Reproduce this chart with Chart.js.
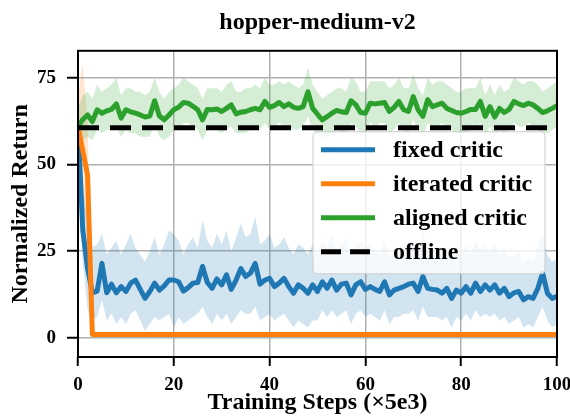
<!DOCTYPE html>
<html lang="en">
<head>
<meta charset="UTF-8">
<title>hopper-medium-v2</title>
<script src="https://cdn.jsdelivr.net/npm/chart.js"></script>
<style>
  body { margin: 0; background: #fff; }
  .chart-box { width: 570px; height: 416px; }
</style>
</head>
<body>
<div class="chart-box"><canvas id="returnChart"></canvas></div>
<script>
// training steps (x5e3)
const steps = Array.from({ length: 101 }, (_, i) => i);
const xTicks = [0, 20, 40, 60, 80, 100];
const yTicks = [0, 25, 50, 75];

const fixedCritic = [
  61, 31, 20, 13, 13.5, 21.5, 13, 15.5, 13, 14.8,
  13.4, 15.8, 16.7, 14, 11.4, 13.4, 15.8, 13.8, 15, 16.7,
  16.7, 16.2, 13.5, 14.5, 15.8, 16, 20.6, 16, 14.3, 17,
  15.3, 18.2, 14, 16.7, 20, 17.7, 18.7, 21.5, 15.5, 16.7,
  17.2, 14.8, 15.8, 17.2, 14.8, 12.9, 15.3, 14.3, 12.9, 15.3,
  13.4, 16.2, 14.3, 16.7, 13.8, 15.5, 15.8, 12.4, 15.3, 16.2,
  14, 14.8, 14, 13.4, 16.2, 12.4, 13.8, 14.3, 14.8, 15.5,
  15.8, 13.4, 17.7, 14.3, 14, 13.8, 12.9, 14.3, 11.4, 13.8,
  12.9, 14.8, 12.9, 15.8, 13.4, 15.3, 13.8, 15.3, 12.9, 14.3,
  11.9, 13, 13.4, 11, 11.9, 11.4, 14.3, 18.7, 12.9, 11.4,
  12
];
const fixedUpper = [
  63, 45, 33, 26, 27, 30, 24, 26, 28, 24,
  27, 30, 26, 24, 22, 25, 29, 24, 27, 31,
  30, 28, 24, 27, 29, 26, 34, 28, 26, 30,
  27, 31, 25, 29, 33, 29, 30, 35, 27, 28,
  30, 26, 27, 29, 26, 24, 27, 26, 24, 27,
  25, 28, 26, 30, 25, 27, 29, 24, 27, 28,
  26, 27, 25, 24, 28, 23, 25, 26, 27, 28,
  28, 25, 31, 26, 25, 25, 24, 26, 22, 25,
  24, 27, 24, 28, 25, 27, 25, 27, 24, 26,
  23, 24, 25, 22, 23, 22, 26, 30, 24, 22,
  23
];
const fixedLower = [
  58, 22, 8, 5, 6, 11, 5, 7, 4, 6,
  4, 7, 8, 5, 2, 4, 6, 5, 6, 7,
  3, 6, 4, 5, 6, 7, 9, 6, 4, 7,
  5, 7, 4, 6, 8, 7, 7, 9, 5, 6,
  7, 5, 6, 7, 5, 3, 5, 4, 3, 5,
  5, 8, 6, 8, 6, 7, 8, 4, 7, 8,
  6, 7, 6, 5, 8, 4, 6, 6, 7, 7,
  8, 5, 9, 6, 6, 6, 5, 6, 3, 6,
  5, 7, 5, 8, 6, 7, 6, 7, 5, 6,
  4, 5, 6, 3, 4, 3, 6, 9, 5, 3,
  4
];

const iteratedCritic = [
  61, 54, 47, 1, 1, 1, 1, 1, 1, 1,
  1, 1, 1, 1, 1, 1, 1, 1, 1, 1,
  1, 1, 1, 1, 1, 1, 1, 1, 1, 1,
  1, 1, 1, 1, 1, 1, 1, 1, 1, 1,
  1, 1, 1, 1, 1, 1, 1, 1, 1, 1,
  1, 1, 1, 1, 1, 1, 1, 1, 1, 1,
  1, 1, 1, 1, 1, 1, 1, 1, 1, 1,
  1, 1, 1, 1, 1, 1, 1, 1, 1, 1,
  1, 1, 1, 1, 1, 1, 1, 1, 1, 1,
  1, 1, 1, 1, 1, 1, 1, 1, 1, 1,
  1
];
const iteratedUpper = [70, 79, 62, 1.5, 1.4];
const iteratedLower = [52, 38, 33, 0.6, 0.6];

const alignedCritic = [
  61, 63, 64.3, 62.4, 65.8, 64.8, 65.5, 65.9, 67.5, 63.4,
  65.8, 65.2, 64.8, 64.3, 63.7, 64, 68.4, 64, 62.9, 64.3,
  65.8, 66.5, 67.9, 67.7, 66.8, 65.8, 62.9, 65.9, 65.8, 66,
  65.3, 66.2, 67.2, 64.6, 65.1, 65.3, 65.8, 66.2, 65.8, 68.2,
  66.5, 67, 67.9, 66.7, 67.5, 66.5, 66.2, 66.7, 71, 66.2,
  64.5, 62.9, 63.8, 64.8, 65.6, 65.2, 65, 68.4, 67.2, 65,
  64.8, 67.7, 67.5, 67.7, 67.9, 65.3, 66.5, 68.2, 65.8, 65.3,
  69.6, 65.8, 63.9, 68.7, 66.7, 67.2, 67.7, 66.2, 65.6, 65,
  64.8, 65.3, 65.9, 65.9, 68.2, 63.9, 66.7, 63.7, 66.2, 65,
  65.9, 68.2, 67.5, 67, 67.7, 67.2, 66.2, 65, 65.5, 66.2,
  67
];
const alignedUpper = [
  66, 70, 71, 69, 73, 71, 72, 73, 75, 70,
  72, 72, 71, 71, 70, 71, 75, 71, 69, 71,
  72, 73, 75, 74, 73, 72, 69, 72, 72, 72,
  71, 73, 74, 71, 71, 72, 72, 73, 72, 75,
  73, 73, 74, 73, 74, 73, 72, 73, 78, 73,
  71, 69, 70, 71, 72, 72, 71, 75, 74, 71,
  71, 74, 74, 74, 74, 72, 73, 75, 72, 72,
  76, 72, 70, 75, 73, 74, 74, 73, 72, 71,
  71, 72, 72, 72, 75, 70, 73, 70, 73, 71,
  72, 75, 74, 73, 74, 74, 73, 71, 72, 73,
  74
];
const alignedLower = [
  56, 57, 58, 57, 60, 59, 60, 60, 61, 58,
  60, 59, 59, 58, 58, 58, 62, 58, 57, 58,
  60, 60, 62, 62, 61, 60, 57, 60, 60, 60,
  59, 60, 61, 59, 59, 59, 60, 60, 60, 62,
  60, 61, 62, 61, 61, 60, 60, 61, 64, 60,
  59, 57, 58, 59, 60, 59, 59, 62, 61, 59,
  59, 62, 61, 62, 62, 59, 60, 62, 60, 59,
  63, 60, 58, 62, 61, 61, 62, 60, 60, 59,
  59, 59, 60, 60, 62, 58, 61, 58, 60, 59,
  60, 62, 61, 61, 62, 61, 60, 59, 59, 60,
  61
];

const offlineReturn = 60.6;

const serif = "'Liberation Serif', 'Times New Roman', serif";
const BLUE = '#1f77b4', ORANGE = '#ff7f0e', GREEN = '#2ca02c';

function line(label, data, color, extra) {
  return Object.assign({
    label, data,
    borderColor: color,
    borderWidth: 5,
    pointRadius: 0,
    tension: 0,
    borderJoinStyle: 'round',
    fill: false
  }, extra || {});
}
function band(data, color, fillTo) {
  return {
    data, band: true,
    borderWidth: 0,
    pointRadius: 0,
    backgroundColor: color,
    fill: fillTo
  };
}

// draws the box round the axes and the legend in the upper right
const frameAndLegend = {
  id: 'frameAndLegend',
  afterDatasetsDraw(chart) {
    const { ctx, chartArea: a } = chart;
    ctx.save();
    ctx.strokeStyle = '#000';
    ctx.lineWidth = 2;
    ctx.strokeRect(a.left, a.top, a.right - a.left, a.bottom - a.top);
    ctx.restore();
  },
  afterDraw(chart) {
    const { ctx, chartArea: a } = chart;
    const items = chart.data.datasets.filter(d => !d.band).reverse();
    const left = a.right - 244, top = a.top + 81, w = 232, h = 142;
    ctx.save();
    ctx.fillStyle = 'rgba(255,255,255,0.8)';
    ctx.strokeStyle = '#cccccc';
    ctx.lineWidth = 1;
    ctx.beginPath();
    ctx.roundRect(left, top, w, h, 4);
    ctx.fill();
    ctx.stroke();
    ctx.font = 'bold 24px ' + serif;
    ctx.textBaseline = 'middle';
    items.forEach((d, i) => {
      const y = top + 18 + i * 34;
      ctx.strokeStyle = d.borderColor;
      ctx.lineWidth = 5;
      ctx.setLineDash(d.borderDash ? [20, 9] : []);
      ctx.beginPath();
      ctx.moveTo(left + 8, y);
      ctx.lineTo(left + 62, y);
      ctx.stroke();
      ctx.fillStyle = '#000';
      ctx.fillText(d.label, left + 80, y + 1);
    });
    ctx.restore();
  }
};

new Chart(document.getElementById('returnChart'), {
  type: 'line',
  data: {
    labels: steps,
    datasets: [
      line('offline', steps.map(() => offlineReturn), '#000', { borderDash: [21, 11] }),
      line('aligned critic', alignedCritic, GREEN),
      line('iterated critic', iteratedCritic, ORANGE),
      line('fixed critic', fixedCritic, BLUE),
      band(alignedUpper, 'rgba(44,160,44,0.2)', '+1'),
      band(alignedLower, 'rgba(44,160,44,0.2)', false),
      band(iteratedUpper, 'rgba(255,127,14,0.2)', '+1'),
      band(iteratedLower, 'rgba(255,127,14,0.2)', false),
      band(fixedUpper, 'rgba(31,119,180,0.2)', '+1'),
      band(fixedLower, 'rgba(31,119,180,0.2)', false)
    ]
  },
  options: {
    responsive: true,
    maintainAspectRatio: false,
    animation: false,
    devicePixelRatio: 1,
    layout: { padding: { left: 0, right: 13, top: 0, bottom: 0 } },
    plugins: {
      legend: { display: false },
      tooltip: { enabled: false },
      title: {
        display: true,
        fullSize: false,
        text: 'hopper-medium-v2',
        color: '#000',
        font: { family: serif, size: 24, weight: 'bold', lineHeight: 1.2 },
        padding: { top: 8, bottom: 14 }
      }
    },
    scales: {
      x: {
        type: 'linear',
        min: 0,
        max: 100,
        afterBuildTicks: s => { s.ticks = xTicks.map(v => ({ value: v })); },
        afterFit: s => { s.height = 59; s.paddingLeft = 0; s.paddingRight = 0; },
        grid: { color: '#b0b0b0', lineWidth: 1.5, tickColor: '#000', tickWidth: 2, tickLength: 9 },
        border: { display: false },
        ticks: { color: '#000', padding: 8, maxRotation: 0, font: { family: serif, size: 19, weight: 'bold' } },
        title: {
          display: true,
          text: 'Training Steps (×5e3)',
          color: '#000',
          padding: 0,
          font: { family: serif, size: 24, weight: 'bold', lineHeight: 1.1 }
        }
      },
      y: {
        min: -5.5,
        max: 82.8,
        afterBuildTicks: s => { s.ticks = yTicks.map(v => ({ value: v })); },
        afterFit: s => { s.width = 78; s.paddingTop = 0; s.paddingBottom = 0; },
        grid: { color: '#b0b0b0', lineWidth: 1.5, tickColor: '#000', tickWidth: 2, tickLength: 11 },
        border: { display: false },
        ticks: { color: '#000', padding: 11, font: { family: serif, size: 19, weight: 'bold' } },
        title: {
          display: true,
          text: 'Normalized Return',
          color: '#000',
          padding: { top: 8, bottom: 0 },
          font: { family: serif, size: 24, weight: 'bold', lineHeight: 1.1 }
        }
      }
    }
  },
  plugins: [frameAndLegend]
});
</script>
</body>
</html>
